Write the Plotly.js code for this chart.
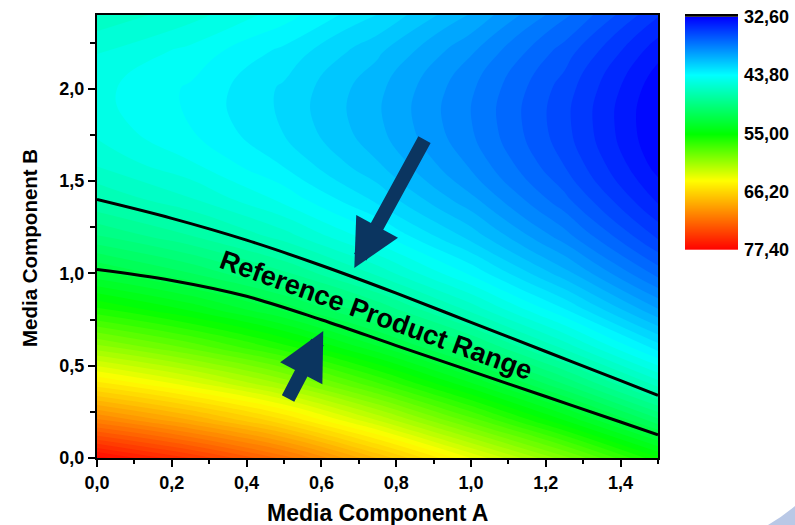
<!DOCTYPE html>
<html>
<head>
<meta charset="utf-8">
<script src="https://cdn.plot.ly/plotly-3.0.1.min.js"></script>
<style>html,body{margin:0;padding:0;background:#fff;}#chart{width:795px;height:525px;}</style>
</head>
<body>
<div id="chart"></div>
<script>
// Grid positions (Media Component A, Media Component B)
const mediaA = [0, 0.25, 0.5, 0.75, 1.0, 1.25, 1.5];
const mediaB = [0, 0.2, 0.4, 0.6, 0.8, 1.0, 1.2, 1.4, 1.6, 1.8, 2.0, 2.2, 2.4];

const respA000 = [77.0, 70.73, 65.12, 60.19, 55.94, 52.37, 49.48, 47.27, 45.74, 44.89, 44.72, 45.23, 46.42];
const respA025 = [74.57, 68.49, 63.08, 58.33, 54.25, 50.83, 48.07, 45.98, 44.55, 43.79, 43.69, 44.26, 45.48];
const respA050 = [71.57, 65.74, 60.55, 56.01, 52.12, 48.87, 46.26, 44.29, 42.97, 42.30, 42.27, 42.88, 44.13];
const respA075 = [67.55, 62.11, 57.27, 53.05, 49.43, 46.42, 44.02, 42.22, 41.04, 40.46, 40.49, 41.13, 42.38];
const respA100 = [63.38, 58.28, 53.76, 49.81, 46.44, 43.65, 41.43, 39.79, 38.72, 38.24, 38.32, 38.98, 40.22];
const respA125 = [59.5, 54.4, 50.1, 46.38, 43.21, 40.59, 38.52, 37.0, 36.03, 35.62, 35.76, 36.45, 37.69];
const respA150 = [55.1, 50.4, 46.3, 42.74, 39.71, 37.22, 35.26, 33.84, 32.95, 32.6, 32.79, 33.52, 34.78];

// Reference product range boundary lines
const upperLineA = [0, 0.2, 0.4, 0.6, 0.8, 1.0, 1.2, 1.4, 1.5];
const upperLineB = [1.40, 1.298, 1.18, 1.043, 0.893, 0.735, 0.577, 0.419, 0.34];
const lowerLineA = [0, 0.2, 0.4, 0.6, 0.8, 1.0, 1.2, 1.4, 1.5];
const lowerLineB = [1.021, 0.962, 0.876, 0.749, 0.609, 0.471, 0.333, 0.195, 0.126];

// Colour bar tick labels
const cbarTicks = [32.6, 43.8, 55.0, 66.2, 77.4];

const columns = [respA000, respA025, respA050, respA075, respA100, respA125, respA150];
const zGrid = mediaB.map((_, j) => columns.map(col => col[j]));

const FONT = 'Liberation Sans, Arial, sans-serif';
const scale = [[0, '#0000ff'], [0.25, '#00ffff'], [0.5, '#00ff00'], [0.70, '#ffff00'], [1, '#ff0000']];
const zmin = cbarTicks[0], zmax = cbarTicks[cbarTicks.length - 1];

const traces = [
  {
    type: 'contour', x: mediaA, y: mediaB, z: zGrid,
    colorscale: scale, zauto: false, zmin: zmin, zmax: zmax, autocontour: false,
    contours: {start: zmin, end: zmax, size: 0.7, coloring: 'fill', showlines: false},
    line: {width: 0, smoothing: 1.3},
    showscale: false, hoverinfo: 'skip'
  },
  {
    type: 'scatter', mode: 'lines', x: upperLineA, y: upperLineB,
    line: {color: '#000', width: 3, shape: 'spline', smoothing: 1.0}, hoverinfo: 'skip', showlegend: false
  },
  {
    type: 'scatter', mode: 'lines', x: lowerLineA, y: lowerLineB,
    line: {color: '#000', width: 3, shape: 'spline', smoothing: 1.0}, hoverinfo: 'skip', showlegend: false
  },
  {
    type: 'heatmap', x: [0, 1], y: cbarTicks, z: cbarTicks.map(v => [v, v]),
    colorscale: scale, zmin: zmin, zmax: zmax, zsmooth: 'best',
    xaxis: 'x2', yaxis: 'y2', showscale: false, hoverinfo: 'skip'
  }
];

const tickFont = {family: FONT, size: 18, color: '#000', weight: 700};
const W = 643, H = 443; // plot area in px (795-97-55, 525-15-67)
const px = v => (v - 97) / W;
const py = v => (458 - v) / H;

const layout = {
  width: 795, height: 525,
  margin: {l: 97, r: 55, t: 15, b: 67, pad: 0},
  paper_bgcolor: '#fff', plot_bgcolor: '#fff',
  separators: ', ',
  showlegend: false,
  xaxis: {
    domain: [0, 561 / W], range: [0, 1.5], tick0: 0, dtick: 0.2, tickformat: '.1f',
    ticks: 'outside', ticklen: 7, tickwidth: 2, tickcolor: '#000',
    minor: {dtick: 0.1, ticks: 'outside', ticklen: 4, tickwidth: 2, tickcolor: '#000'},
    showline: true, linecolor: '#000', linewidth: 2, mirror: true,
    showgrid: false, zeroline: false, tickfont: tickFont, anchor: 'y'
  },
  yaxis: {
    domain: [0, 1], range: [0, 2.4], tick0: 0, dtick: 0.5, tickformat: '.1f',
    ticks: 'outside', ticklen: 7, tickwidth: 2, tickcolor: '#000',
    minor: {dtick: 0.25, ticks: 'outside', ticklen: 5, tickwidth: 2, tickcolor: '#000'},
    showline: true, linecolor: '#000', linewidth: 2, mirror: true,
    showgrid: false, zeroline: false, tickfont: tickFont, anchor: 'x'
  },
  xaxis2: {domain: [px(685), px(738)], range: [0, 1], visible: false, anchor: 'y2', fixedrange: true},
  yaxis2: {
    domain: [py(250), py(16.7)], range: [zmax, zmin], anchor: 'x2', side: 'right',
    tickvals: cbarTicks, tickformat: '.2f', ticks: '', showline: false, showgrid: false, zeroline: false,
    ticklabelstandoff: 5,
    tickfont: {family: FONT, size: 18, color: '#000', weight: 700}
  },
  shapes: [
    {type: 'rect', xref: 'paper', yref: 'paper', x0: px(685), x1: px(738), y0: py(16.7), y1: py(14), fillcolor: '#000', line: {width: 0}},
    {type: 'path', xref: 'paper', yref: 'paper',
     path: `M ${px(768)},${py(525)} Q ${px(782)},${py(517)} ${px(795)},${py(506)} L ${px(795)},${py(525)} Z`,
     fillcolor: '#b9c8e6', line: {width: 0}}
  ],
  annotations: [
    {xref: 'paper', yref: 'paper', x: px(377.5), y: py(513), text: '<b>Media Component A</b>', showarrow: false,
     font: {family: FONT, size: 23, color: '#000'}, xanchor: 'center', yanchor: 'middle'},
    {xref: 'paper', yref: 'paper', x: px(30), y: py(248), text: '<b>Media Component B</b>', showarrow: false, textangle: -90,
     font: {family: FONT, size: 20.5, color: '#000'}, xanchor: 'center', yanchor: 'middle'},
    {xref: 'x', yref: 'y', x: 0.745, y: 0.774, text: '<b>Reference Product Range</b>', showarrow: false, textangle: 20,
     font: {family: FONT, size: 27, color: '#000'}, xanchor: 'center', yanchor: 'middle'},
    {xref: 'x', yref: 'y', x: 0.688, y: 1.029, ax: 71, ay: -130, text: '', showarrow: true,
     arrowhead: 2, arrowsize: 0.68, arrowwidth: 14, arrowcolor: '#0b3560'},
    {xref: 'x', yref: 'y', x: 0.605, y: 0.688, ax: -36, ay: 69, text: '', showarrow: true,
     arrowhead: 2, arrowsize: 0.68, arrowwidth: 14, arrowcolor: '#0b3560'}
  ]
};

Plotly.newPlot('chart', traces, layout, {staticPlot: true, displayModeBar: false});
</script>
</body>
</html>
